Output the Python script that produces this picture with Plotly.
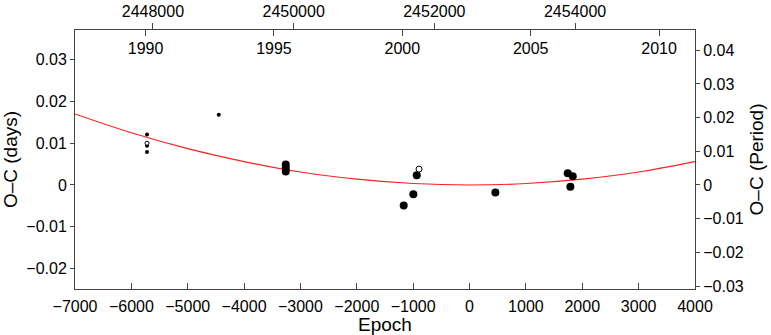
import plotly.graph_objects as go

# O-C data (epoch, O-C in days)
small_epoch = [-5722, -5722, -5722, -4450]
small_oc = [0.0121, 0.0094, 0.0079, 0.0168]
small_open_epoch = [-5722]
small_open_oc = [0.0100]

big_epoch = [-3261, -3261, -3261, -1168, -997, -937, 458, 1742, 1831, 1789]
big_oc = [0.0049, 0.0041, 0.0032, -0.0049, -0.0022, 0.0023, -0.0018, 0.0028, 0.0021, -0.0004]
open_epoch = [-896]
open_oc = [0.0038]

# fitted curve read at whole thousands of epoch
fit_epoch = [-7000, -6000, -5000, -4000, -3000, -2000, -1000, 0, 1000, 2000, 3000, 4000]
fit_oc = [0.0170, 0.0125, 0.0087, 0.0056, 0.0031, 0.0014, 0.00035, 0.0, 0.00035, 0.0014, 0.0031, 0.0056]

jd_ticks = [2448000, 2450000, 2452000, 2454000]
year_ticks = [1990, 1995, 2000, 2005, 2010]
period_ticks = [-0.03, -0.02, -0.01, 0, 0.01, 0.02, 0.03, 0.04]

FONT = "Liberation Sans, Arial, sans-serif"
AX = "#444"

fig = go.Figure()
fig.add_trace(go.Scatter(x=fit_epoch, y=fit_oc, mode="lines", line_shape="spline",
                         line=dict(color="#ff2020", width=1.2), hoverinfo="skip"))
fig.add_trace(go.Scatter(x=small_epoch, y=small_oc, mode="markers",
                         marker=dict(color="black", size=4)))
fig.add_trace(go.Scatter(x=small_open_epoch, y=small_open_oc, mode="markers",
                         marker=dict(color="white", size=4, line=dict(color="black", width=1))))
fig.add_trace(go.Scatter(x=big_epoch, y=big_oc, mode="markers",
                         marker=dict(color="black", size=8)))
fig.add_trace(go.Scatter(x=open_epoch, y=open_oc, mode="markers",
                         marker=dict(color="white", size=6, line=dict(color="black", width=1))))

# empty helper traces so the secondary axes get drawn
fig.add_trace(go.Scatter(x=jd_ticks, y=[None] * len(jd_ticks), xaxis="x2", yaxis="y",
                         mode="markers", hoverinfo="skip"))
fig.add_trace(go.Scatter(x=year_ticks, y=[None] * len(year_ticks), xaxis="x3", yaxis="y",
                         mode="markers", hoverinfo="skip"))
fig.add_trace(go.Scatter(x=[None] * len(period_ticks), y=period_ticks, xaxis="x", yaxis="y2",
                         mode="markers", hoverinfo="skip"))

common = dict(tickcolor=AX, showgrid=False, zeroline=False, automargin=False,
              tickfont=dict(color="black", size=16))

fig.update_layout(
    width=771, height=335,
    margin=dict(l=75, r=76, t=30, b=46),
    plot_bgcolor="white", paper_bgcolor="white",
    showlegend=False,
    font=dict(family=FONT, size=16, color="black"),
    xaxis=dict(range=[-7000, 4000], dtick=1000, tick0=0, ticks="inside", ticklen=6,
               showline=True, linecolor=AX, linewidth=1, ticklabelstandoff=3,
               title=dict(text="Epoch", standoff=0), **common),
    yaxis=dict(range=[-0.0249, 0.0371], dtick=0.01, tick0=0, ticks="outside", ticklen=4,
               showline=True, linecolor=AX, linewidth=1,
               title=dict(text="O–C (days)", standoff=3), **common),
    xaxis2=dict(overlaying="x", side="top", anchor="y", range=[2446893, 2455704],
                tickvals=jd_ticks, tickformat="d", ticks="outside", ticklen=6,
                showline=True, linecolor=AX, linewidth=1, **common),
    xaxis3=dict(overlaying="x", side="top", anchor="y", range=[1987.25, 2011.40],
                tickvals=year_ticks, ticks="inside", ticklen=6, ticklabelposition="inside",
                ticklabelstandoff=7, showline=False, **common),
    yaxis2=dict(overlaying="y", side="right", anchor="x", range=[-0.03089, 0.04603],
                tickvals=period_ticks, ticks="outside", ticklen=4,
                showline=True, linecolor=AX, linewidth=1,
                title=dict(text="O–C (Period)", standoff=6), **common),
)

fig.write_html("out.html", config={"displayModeBar": False},
               post_script="document.body.style.margin='0';")
